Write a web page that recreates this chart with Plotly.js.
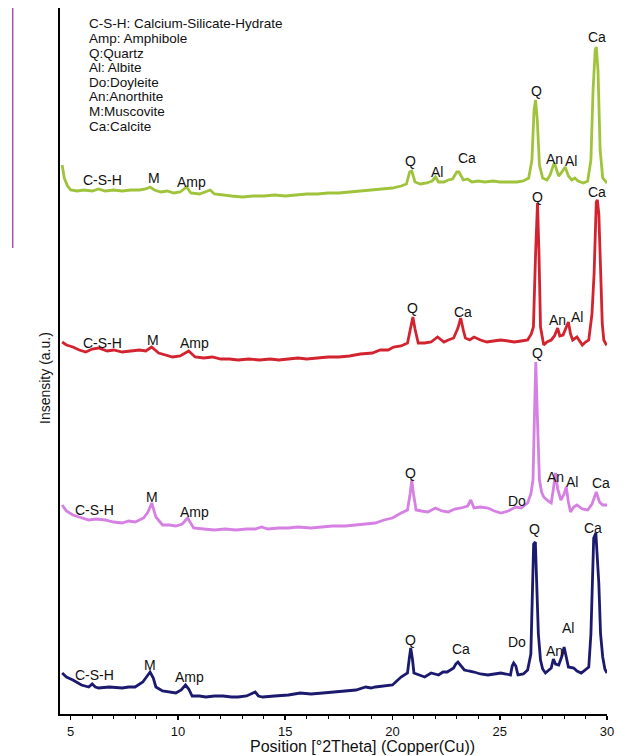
<!DOCTYPE html>
<html><head><meta charset="utf-8">
<script src="https://cdn.plot.ly/plotly-3.0.1.min.js"></script>
<style>html,body{margin:0;padding:0;background:#fff}#chart{width:640px;height:756px}</style>
</head><body><div id="chart"></div>
<script>
// ---- data (2theta, stacked intensity a.u.) ----
const m1aTheta=[4.6,4.7,4.85,5.0,5.3,5.6,6.0,6.3,6.6,7.0,7.4,7.8,8.2,8.5,8.7,8.9,9.2,9.5,9.8,10.1,10.4,10.6,11.0,11.3,11.5,11.7,12.0,12.5,13.0,13.5,14.0,14.5,15.0,15.5,16.0,16.5,17.0,17.5,18.0,18.5,19.0,19.5,20.0,20.4,20.65,20.8,20.9,21.05,21.3,21.6,21.85,22.0,22.15,22.4,22.6,22.8,23.0,23.1,23.3,23.5,23.7,24.0,24.3,24.7,25.0,25.4,25.8,26.1,26.35,26.5,26.6,26.67,26.75,26.85,27.0,27.2,27.35,27.5,27.56,27.65,27.75,27.9,28.05,28.2,28.35,28.5,28.65,28.9,29.1,29.25,29.35,29.45,29.5,29.58,29.68,29.8,29.95,30.0];
const m1aInt=[549,536,528,524,523,524,523,525,523,524,523,524,524,525,527,524,522,523,521,522,527,521,520,522,524,520,519,518,517,518,518,519,518,519,520,520,521,521,522,523,524,525,526,528,530,542,543,532,530,531,533,537,532,532,534,535,542,542,534,535,532,533,532,533,532,532,532,533,536,554,604,614,594,549,536,534,539,549,551,544,538,542,547,538,534,536,533,531,533,554,624,664,667,644,564,536,532,531];

const m1bTheta=[4.6,4.8,5.1,5.4,5.7,6.0,6.3,6.7,7.0,7.4,7.8,8.2,8.5,8.77,9.1,9.4,9.75,10.1,10.5,10.8,11.2,11.6,12.0,12.4,12.8,13.3,13.8,14.3,14.7,15.15,15.6,16.0,16.5,17.0,17.5,18.0,18.5,19.06,19.43,19.8,20.05,20.4,20.7,20.85,20.95,21.05,21.2,21.5,21.8,22.1,22.4,22.6,22.85,23.05,23.18,23.3,23.4,23.6,23.8,24.1,24.4,24.7,25.05,25.4,25.67,26.0,26.3,26.47,26.57,26.67,26.76,26.83,26.9,27.05,27.2,27.4,27.55,27.7,27.8,27.95,28.08,28.2,28.3,28.4,28.6,28.85,29.0,29.15,29.3,29.4,29.5,29.55,29.62,29.7,29.78,29.85,29.95,30.0];
const m1bInt=[372,369,367,364,362,365,366,363,364,362,363,364,363,367,361,359,357,358,363,357,356,357,355,355,354,355,354,355,354,355,356,355,356,357,357,358,360,361,364,364,367,368,371,385,397,385,371,371,372,377,372,374,376,386,396,384,376,374,377,374,372,373,374,373,372,373,374,380,387,460,511,460,387,369,372,374,378,386,378,379,385,392,380,374,377,369,372,374,400,441,512,514,500,437,390,374,370,371];

const m1cTheta=[4.6,4.8,5.1,5.5,5.84,6.2,6.6,7.0,7.4,7.7,8.0,8.4,8.6,8.78,8.9,8.97,9.28,9.6,9.9,10.2,10.45,10.6,10.73,11.2,11.7,12.2,12.7,13.2,13.6,13.9,14.2,14.7,15.15,15.6,16.2,16.7,17.2,17.8,18.3,18.8,19.2,19.6,20.0,20.4,20.7,20.82,20.9,20.98,21.1,21.35,21.65,22.0,22.3,22.6,22.9,23.2,23.5,23.65,23.8,24.1,24.45,24.75,25.05,25.4,25.75,26.0,26.3,26.45,26.55,26.62,26.68,26.75,26.85,26.95,27.05,27.25,27.4,27.5,27.6,27.7,27.85,28.0,28.1,28.2,28.3,28.45,28.6,28.85,29.1,29.3,29.5,29.65,29.8,30.0];
const m1cInt=[209,203,199,196,194,195,194,192,191,193,192,196,202,211,203,197,189,189,188,190,196,190,186,185,184,185,184,185,185,187,185,186,186,187,186,187,188,188,189,190,191,194,196,201,204,220,234,220,204,203,202,206,203,202,205,206,208,214,206,207,206,203,201,203,207,206,211,220,234,300,352,300,234,222,217,213,211,225,241,225,214,220,227,212,202,207,209,205,204,210,222,212,209,209];

const m1dTheta=[4.6,4.8,5.1,5.5,5.84,6.0,6.15,6.3,6.8,7.4,7.7,8.0,8.36,8.55,8.7,8.85,8.97,9.28,9.6,9.9,10.15,10.35,10.5,10.66,11.0,11.3,11.7,12.1,12.5,12.8,13.2,13.6,13.75,13.95,14.5,15.15,15.7,16.2,16.75,17.3,17.8,18.3,18.75,19.0,19.2,19.6,20.0,20.4,20.7,20.78,20.85,20.93,21.0,21.25,21.5,21.8,22.15,22.35,22.55,22.85,22.95,23.05,23.2,23.35,23.55,23.8,24.1,24.45,24.75,25.05,25.3,25.5,25.58,25.65,25.75,25.85,26.1,26.3,26.45,26.52,26.58,26.66,26.72,26.8,26.9,27.0,27.13,27.3,27.4,27.5,27.6,27.75,27.9,28.0,28.1,28.2,28.45,28.6,28.8,29.0,29.15,29.25,29.32,29.38,29.48,29.55,29.62,29.7,29.8,29.9,30.0];
const m1dInt=[41,37,34,29,27,30,27,26,27,26,27,27,32,37,42,36,27,23,22,21,24,29,25,18,18,17,18,18,17,17,18,22,18,17,18,19,21,20,21,22,23,24,27,26,27,28,29,37,41,55,66,55,41,39,37,41,39,42,42,46,50,52,48,44,43,42,40,39,40,41,40,39,48,51,48,39,40,44,60,110,170,172,140,80,54,45,41,44,46,55,50,49,58,67,55,47,46,43,41,44,47,80,140,176,181,160,130,80,57,45,41];

const sampleNames=['M1a','M1b','M1c','M1d'];
const xTicks=[5,10,15,20,25,30];
const phaseKey=['C-S-H: Calcium-Silicate-Hydrate','Amp: Amphibole','Q:Quartz','Al: Albite','Do:Doyleite','An:Anorthite','M:Muscovite','Ca:Calcite'];

// peak labels: [text, 2theta, intensity]
const m1aPeaks=[['C-S-H',6.46,534],['M',8.88,536],['Amp',10.65,532],['Q',20.86,553],['Al',22.08,542],['Ca',23.47,556],['Q',26.69,623],['An',27.53,555],['Al',28.32,553],['Ca',29.53,677],['M1a',30.93,536]];
const m1bPeaks=[['C-S-H',6.46,371],['M',8.84,374],['Amp',10.79,371],['Q',20.91,406],['Ca',23.29,402],['Q',26.78,517],['An',27.67,394],['Al',28.6,397],['Ca',29.53,522],['M1b',30.84,377]];
const m1cPeaks=[['C-S-H',6.13,204],['M',8.79,217],['Amp',10.79,202],['Q',20.86,241],['Do',25.81,213],['Q',26.74,361],['An',27.58,237],['Al',28.37,232],['Ca',29.72,231],['M1c',30.93,209]];
const m1dPeaks=[['C-S-H',6.13,39],['M',8.7,49],['Amp',10.56,37],['Q',20.86,74],['Ca',23.19,65],['Do',25.81,72],['Q',26.6,185],['An',27.53,63],['Al',28.18,86],['Ca',29.35,186],['M1d',30.93,41]];

// ---- styling ----
const colors=['#9fc43c','#d2232f','#d580e2','#1b1a6e'];
const FONT='Liberation Sans, Arial, sans-serif';
const xs=[m1aTheta,m1bTheta,m1cTheta,m1dTheta];
const ys=[m1aInt,m1bInt,m1cInt,m1dInt];
const traces=xs.map((x,i)=>({x:x,y:ys[i],type:'scatter',mode:'lines',name:sampleNames[i],
  line:{color:colors[i],width:2.8,shape:'linear'},hoverinfo:'skip'}));

const annotations=[];
[m1aPeaks,m1bPeaks,m1cPeaks,m1dPeaks].forEach(list=>{
  list.forEach(p=>annotations.push({text:p[0],x:p[1],y:p[2],xref:'x',yref:'y',showarrow:false,
    xanchor:'center',yanchor:'middle',font:{family:FONT,size:14,color:'#111'}}));
});
phaseKey.forEach((t,i)=>{
  const py=24+i*14.6;
  annotations.push({text:t,xref:'paper',yref:'paper',x:(87-60)/547,y:(714-py)/706,
    xanchor:'left',yanchor:'middle',showarrow:false,font:{family:FONT,size:13.5,color:'#111'}});
});
annotations.push({text:'Insensity (a.u.)',xref:'paper',yref:'paper',x:(45-60)/547,y:(714-378)/706,
  textangle:-90,showarrow:false,xanchor:'center',yanchor:'middle',font:{family:FONT,size:14,color:'#111'}});
annotations.push({text:'Position [°2Theta] (Copper(Cu))',xref:'paper',yref:'paper',x:(362-60)/547,y:(714-746.5)/706,
  showarrow:false,xanchor:'center',yanchor:'middle',font:{family:FONT,size:16,color:'#111'}});

const layout={
  width:640,height:756,margin:{l:60,r:33,t:8,b:42},
  paper_bgcolor:'#fff',plot_bgcolor:'#fff',showlegend:false,
  font:{family:FONT,color:'#111'},
  xaxis:{range:[4.5,30],tickvals:xTicks,ticks:'outside',ticklen:4,tickwidth:1.5,tickcolor:'#000',
    minor:{dtick:1,ticks:'outside',ticklen:3,tickwidth:1,tickcolor:'#000'},
    showline:true,linecolor:'#000',linewidth:2,showgrid:false,zeroline:false,
    tickfont:{family:FONT,size:13,color:'#111'}},
  yaxis:{range:[0,706],showticklabels:false,ticks:'',showline:true,linecolor:'#000',linewidth:2,
    showgrid:false,zeroline:false},
  annotations:annotations,
  shapes:[{type:'line',xref:'paper',yref:'paper',x0:(12.7-60)/547,x1:(12.7-60)/547,
    y0:(714-248)/706,y1:(714-8)/706,line:{color:'#9b5ab5',width:1.5}}]
};
Plotly.newPlot('chart',traces,layout,{displayModeBar:false,staticPlot:true});
</script></body></html>
